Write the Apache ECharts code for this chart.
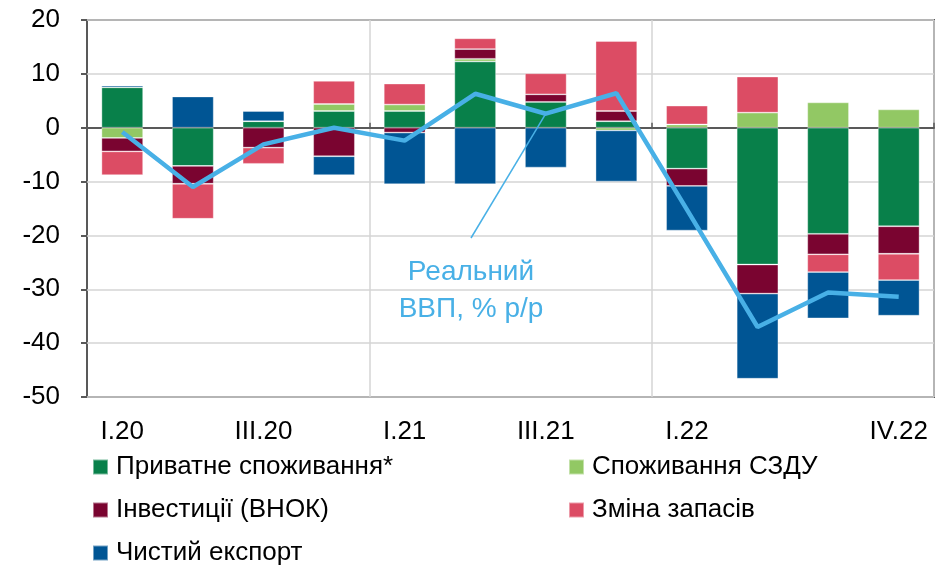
<!DOCTYPE html>
<html lang="uk">
<head>
    <meta charset="UTF-8">
    <title>ВВП: внески компонентів</title>
    <script src="https://cdn.jsdelivr.net/npm/echarts@6.0.0/dist/echarts.min.js"></script>
    <style>
        html, body { margin: 0; padding: 0; background: #fff; }
        #chart { width: 936px; height: 567px; }
    </style>
</head>
<body>
<div id="chart"></div>
<script>
    // кварталы
    var categories = ['I.20', 'II.20', 'III.20', 'IV.20', 'I.21', 'II.21', 'III.21', 'IV.21', 'I.22', 'II.22', 'III.22', 'IV.22'];
    var tickLabels = ['I.20', '', 'III.20', '', 'I.21', '', 'III.21', '', 'I.22', '', '', 'IV.22'];

    // внески, в.п.
    var privCons = [7.5, -7.1, 1.2, 3.1, 3.1, 12.3, 4.8, 1.2, -7.6, -25.4, -19.7, -18.3];
    var govCons = [-1.9, 0, 0, 1.3, 1.2, 0.5, 0, -0.5, 0.6, 2.8, 4.7, 3.4];
    var invest = [-2.5, -3.3, -3.7, -5.3, -0.9, 1.8, 1.4, 1.9, -3.2, -5.4, -3.8, -5.1];
    var stocks = [-4.4, -6.5, -3.0, 4.3, 3.9, 2.0, 3.9, 13.0, 3.5, 6.7, -3.3, -4.9];
    var netExport = [0.3, 5.8, 1.9, -3.5, -9.6, -10.5, -7.4, -9.5, -8.3, -15.8, -8.6, -6.6];
    // реальний ВВП, % р/р
    var gdp = [-0.8, -11.0, -3.1, 0.0, -2.4, 6.3, 2.6, 6.4, -15.2, -37.0, -30.6, -31.4];

    var font = 'Liberation Sans, Arial, sans-serif';
    var fs = 26;
    var lineColor = '#48B0E6';

    function barSeries(name, data, color) {
        return {
            name: name,
            type: 'bar',
            stack: 'gdp',
            data: data,
            barCategoryGap: '41%',
            itemStyle: { color: color, borderColor: 'rgba(255,255,255,0.45)', borderWidth: 0.8 },
            emphasis: { disabled: true }
        };
    }

    var legendText = { fontSize: fs, color: '#000', fontFamily: font, lineHeight: 24, padding: [0, 0, 0, 3] };

    var myChart = echarts.init(document.getElementById('chart'));

    var option = {
        animation: false,
        textStyle: { fontFamily: font },
        grid: {
            left: 87, right: 2, top: 20, bottom: 170,
            show: true, borderColor: '#595959', borderWidth: 2
        },
        legend: [
            {
                orient: 'vertical', left: 92, top: 454, padding: 0, height: 160,
                itemWidth: 15, itemHeight: 15, itemGap: 17,
                icon: 'rect',
                textStyle: legendText,
                data: ['Приватне споживання*', 'Інвестиції (ВНОК)', 'Чистий експорт']
            },
            {
                orient: 'vertical', left: 568, top: 454, padding: 0, height: 160,
                itemWidth: 15, itemHeight: 15, itemGap: 17,
                icon: 'rect',
                textStyle: legendText,
                data: ['Споживання СЗДУ', 'Зміна запасів']
            }
        ],
        xAxis: [
            {
                type: 'category',
                data: categories,
                position: 'bottom',
                axisLine: { show: false, onZero: false },
                axisTick: { show: false },
                axisLabel: {
                    interval: 0, margin: 22, fontSize: fs, color: '#000', fontFamily: font,
                    formatter: function (v, i) { return tickLabels[i]; }
                },
                splitLine: {
                    show: true,
                    interval: function (i) { return i > 0 && i % 4 === 0; },
                    lineStyle: { color: '#D4D4D4', width: 1.5 }
                }
            },
            {
                // нульова лінія
                type: 'category',
                data: categories,
                position: 'bottom',
                axisLine: { show: true, onZero: true, lineStyle: { color: '#595959', width: 2 } },
                axisTick: {
                    show: true, inside: true, length: 5,
                    interval: function (i) { return i > 0 && i % 4 === 0; },
                    lineStyle: { color: '#595959', width: 1.5 }
                },
                axisLabel: { show: false },
                splitLine: { show: false }
            }
        ],
        yAxis: {
            type: 'value',
            min: -50, max: 20, interval: 10,
            axisLine: { show: false },
            axisTick: { show: true, length: 6, lineStyle: { color: '#595959', width: 2 } },
            axisLabel: { fontSize: fs, color: '#000', margin: 27, fontFamily: font },
            splitLine: { lineStyle: { color: '#D4D4D4', width: 1.5 } }
        },
        series: [
            barSeries('Приватне споживання*', privCons, '#08804A'),
            barSeries('Споживання СЗДУ', govCons, '#92C864'),
            barSeries('Інвестиції (ВНОК)', invest, '#7A0430'),
            barSeries('Зміна запасів', stocks, '#DC4C64'),
            barSeries('Чистий експорт', netExport, '#005594'),
            {
                name: 'Реальний ВВП, % р/р',
                type: 'line',
                data: gdp,
                symbol: 'none',
                z: 5,
                lineStyle: { color: lineColor, width: 4.5 },
                itemStyle: { color: lineColor },
                emphasis: { disabled: true }
            }
        ]
    };

    myChart.setOption(option);

    // підпис лінії з виноскою
    var anchor = myChart.convertToPixel({ xAxisIndex: 0, yAxisIndex: 0 }, ['III.21', gdp[6]]);
    myChart.setOption({
        graphic: [
            {
                type: 'line', z: 10,
                shape: { x1: anchor[0], y1: anchor[1], x2: 471, y2: 238 },
                style: { stroke: lineColor, lineWidth: 1.5 }
            },
            {
                type: 'text', z: 10, x: 471, y: 254,
                style: {
                    text: 'Реальний\nВВП, % р/р', fill: lineColor, font: '28px ' + font,
                    textAlign: 'center', lineHeight: 37
                }
            }
        ]
    });
</script>
</body>
</html>
